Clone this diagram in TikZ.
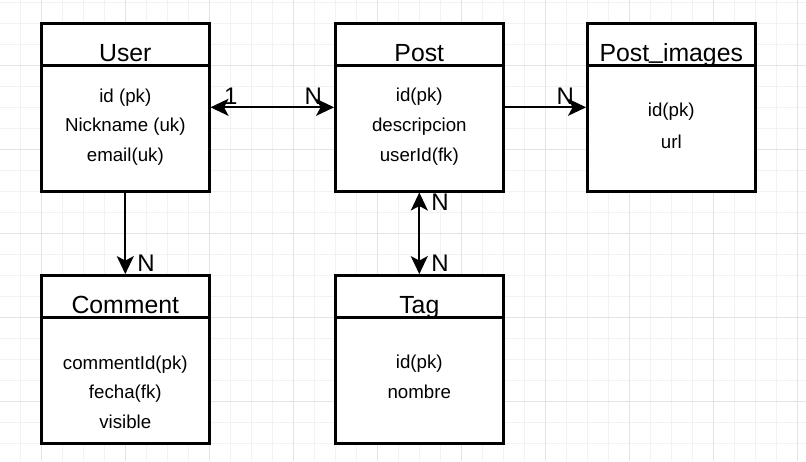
\documentclass[tikz,border=0pt]{standalone}
\usepackage{fontspec}
\setmainfont{Liberation Sans}
\usetikzlibrary{arrows.meta, positioning}

\begin{document}
\begin{tikzpicture}[
x=1pt, y=-1pt,
>={Stealth[length=18pt, width=17pt, inset=4.5pt]},
minorgrid/.style={draw=black!5, line width=0.8pt},
majorgrid/.style={draw=black!11, line width=0.8pt},
entity/.style={draw, line width=2.4pt, fill=white, minimum width=168pt, minimum height=168pt, inner sep=0pt},
header/.style={line width=2.4pt},
entitytitle/.style={anchor=base, inner sep=0pt, font=\fontsize{24.8}{30}\selectfont},
fields/.style={align=center, inner sep=0pt, font=\fontsize{18.7}{29.6}\selectfont},
link/.style={line width=2.2pt},
card/.style={inner sep=0pt, font=\fontsize{24}{28}\selectfont},
]
\useasboundingbox (0,0) rectangle (806,461);
% grid
\foreach \k in {-2,...,36} \draw[minorgrid] (41.3+21*\k,0) -- (41.3+21*\k,461);
\foreach \k in {0,...,21} \draw[minorgrid] (0,2.3+21*\k) -- (806,2.3+21*\k);
\foreach \k in {0,...,9} \draw[majorgrid] (41.3+84*\k,0) -- (41.3+84*\k,461);
\foreach \k in {0,...,4} \draw[majorgrid] (0,65.3+84*\k) -- (806,65.3+84*\k);

% nodes
\node[entity] (user) at (125.3,107.3) {};
\node[entity] (post) at (419.3,107.3) {};
\node[entity] (images) at (671.3,107.3) {};
\node[entity] (comment) at (125.3,359.3) {};
\node[entity] (tag) at (419.3,359.3) {};

% headers
\draw[header] ([yshift=42pt]user.west) -- ([yshift=42pt]user.east);
\draw[header] ([yshift=42pt]post.west) -- ([yshift=42pt]post.east);
\draw[header] ([yshift=42pt]images.west) -- ([yshift=42pt]images.east);
\draw[header] ([yshift=42pt]comment.west) -- ([yshift=42pt]comment.east);
\draw[header] ([yshift=42pt]tag.west) -- ([yshift=42pt]tag.east);

% titles
\node[entitytitle] (usertitle) at ([yshift=-39.3pt]user.north) {User};
\node[entitytitle] (posttitle) at ([yshift=-39.3pt]post.north) {Post};
\node[entitytitle] (imagestitle) at ([yshift=-39.3pt]images.north) {Post\raisebox{2.6pt}{\_}images};
\node[entitytitle] (commenttitle) at ([yshift=-39.3pt]comment.north) {Comment};
\node[entitytitle] (tagtitle) at ([yshift=-39.3pt]tag.north) {Tag};

% fields
\node[fields] (userfields) at ([yshift=-19.7pt]user.center) {id (pk)\\Nickname (uk)\\email(uk)};
\node[fields] (postfields) at ([yshift=-19.4pt]post.center) {id(pk)\\descripcion\\userId(fk)};
\node[fields, font=\fontsize{18.7}{31.7}\selectfont] (imagesfields) at ([yshift=-18.7pt]images.center) {id(pk)\\url};
\node[fields] (commentfields) at ([yshift=-32.7pt]comment.center) {commentId(pk)\\fecha(fk)\\visible};
\node[fields] (tagfields) at ([yshift=-17.7pt]tag.center) {id(pk)\\nombre};

% arrows
\draw[link, <->] (user) -- node[card, pos=0.164, yshift=11.3pt] {1} node[card, pos=0.831, yshift=11.3pt] {N} (post);
\draw[link, ->] (post) -- node[card, pos=0.746, yshift=11.3pt] {N} (images);
\draw[link, ->] (user) -- node[card, pos=0.865, xshift=20.7pt] {N} (comment);
\draw[link, <->] (post) -- node[card, pos=0.115, xshift=20.7pt] {N} node[card, pos=0.865, xshift=20.7pt] {N} (tag);
\end{tikzpicture}
\end{document}
